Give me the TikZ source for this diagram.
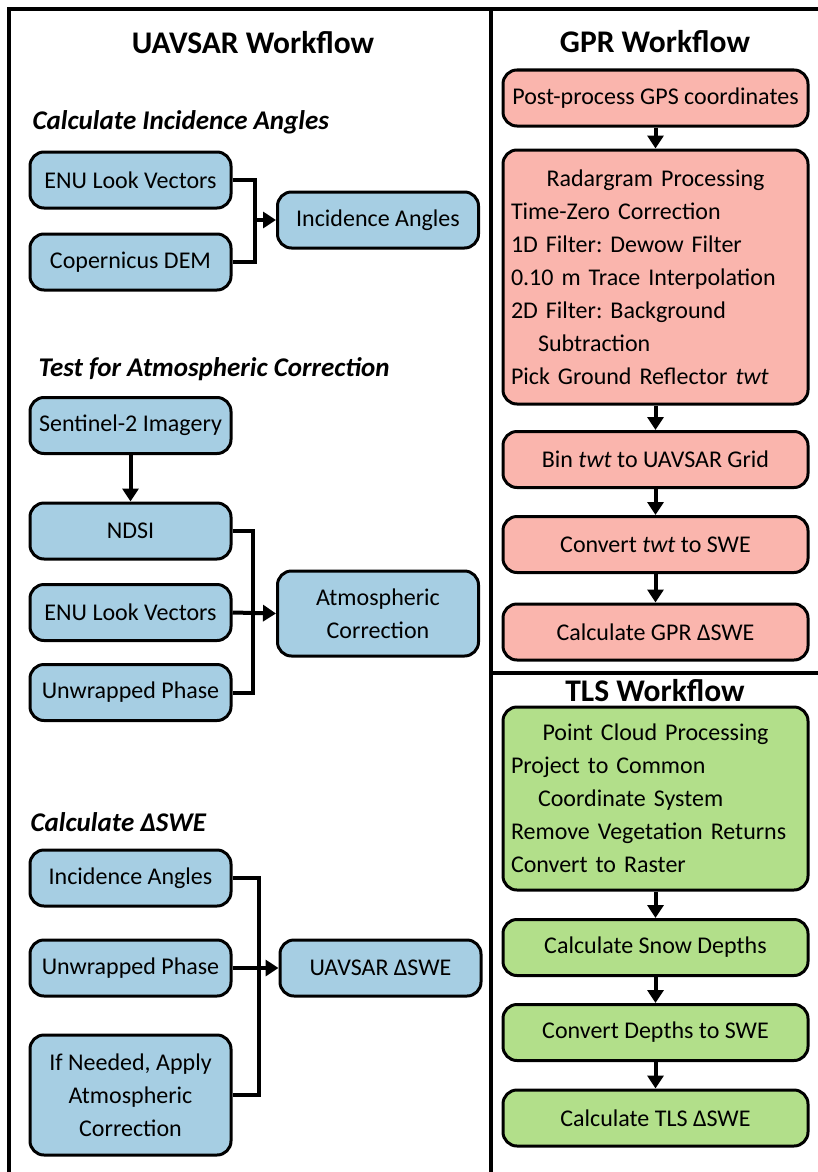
\documentclass[tikz,border=0pt]{standalone}
\usepackage{fontspec}
\setmainfont{Carlito}
\usetikzlibrary{arrows.meta}

\definecolor{uavblue}{RGB}{166,206,227}
\definecolor{gprpink}{RGB}{250,181,173}
\definecolor{tlsgreen}{RGB}{178,223,138}

\tikzset{every picture/.style={line width=0.75pt}}
\tikzset{
	box/.style={draw, line width=3pt, rounded corners=14pt, align=center, inner sep=0pt, font=\fontsize{24}{33}\selectfont},
	uavbox/.style={box, fill=uavblue, minimum width=201pt, minimum height=56pt},
	gprbox/.style={box, fill=gprpink, minimum width=305pt, minimum height=56pt},
	tlsbox/.style={box, fill=tlsgreen, minimum width=305pt, minimum height=56pt},
	title/.style={font=\fontsize{31.5}{34}\selectfont\bfseries},
	subtitle/.style={anchor=west, font=\fontsize{27}{30}\selectfont\bfseries\itshape},
	wire/.style={line width=4pt},
	arrow/.style={line width=4pt, -{Triangle[width=16pt,length=13pt]}},
	frame/.style={line width=4pt}
}

\begin{document}
\frenchspacing
\begin{tikzpicture}[x=1pt,y=1pt,yscale=-1,xscale=1]
	\useasboundingbox (0,0) rectangle (818,1172);

	%Frame
	\draw [frame] (9,1172) -- (9,9) -- (818,9) ;
	\draw [frame] (491,9) -- (491,1172) ;
	\draw [frame] (491,673) -- (818,673) ;

	% Titles
	\node [title] (uavtitle) at (253,43) {UAVSAR Workflow};
	\node [title] (gprtitle) at (655,42) {GPR Workflow};
	\node [title] (tlstitle) at (655,691) {TLS Workflow};
	\node [subtitle] (subinc) at (29,122) {Calculate Incidence Angles};
	\node [subtitle] (subatm) at (35,369) {Test for Atmospheric Correction};
	\node [subtitle] (subswe) at (27,822) {Calculate ΔSWE};

	% UAVSAR: incidence angles
	\node [uavbox] (enua) at (130.5,180) {ENU Look Vectors};
	\node [uavbox] (dem) at (130.5,262) {Copernicus DEM};
	\node [uavbox] (inca) at (378,220) {Incidence Angles};
	\coordinate (busa) at (255,220);
	\draw [wire] (enua.east) -| (busa) |- (dem.east) ;
	\draw [arrow] (busa) -- (inca.west) ;

	% UAVSAR: atmospheric correction
	\node [uavbox] (sent) at (130.5,425.5) {Sentinel-2 Imagery};
	\node [uavbox] (ndsi) at (130.5,531) {NDSI};
	\node [uavbox] (enub) at (130.5,612.5) {ENU Look Vectors};
	\node [uavbox] (unwa) at (130.5,692.5) {Unwrapped Phase};
	\node [uavbox, minimum height=85pt] (atm) at (378,613.5) {Atmospheric\\Correction};
	\coordinate (busb) at (253,612.5);
	\draw [arrow] (sent) -- (ndsi) ;
	\draw [wire] (ndsi.east) -| (busb) |- (unwa.east) ;
	\draw [arrow] (enub.east) -- (atm.west) ;

	% UAVSAR: delta SWE
	\node [uavbox] (incb) at (130.5,878) {Incidence Angles};
	\node [uavbox] (unwb) at (130.5,968) {Unwrapped Phase};
	\node [uavbox, minimum height=120pt] (apply) at (130.5,1095) {If Needed, Apply\\Atmospheric\\Correction};
	\node [uavbox] (uswe) at (380.5,968) {UAVSAR ΔSWE};
	\coordinate (busc) at (259,968);
	\draw [wire] (incb.east) -| (busc) |- (apply.east) ;
	\draw [arrow] (unwb.east) -- (uswe.west) ;

	% GPR
	\node [gprbox] (gps) at (655.5,98) {Post-process GPS coordinates};
	\node [gprbox, minimum height=254pt, text width=289pt, align=left] (radar) at (655.5,277) {\makebox[289pt]{Radargram Processing}\\Time-Zero Correction\\1D Filter: Dewow Filter\\0.10 m Trace Interpolation\\2D Filter: Background\\\hspace*{27pt}Subtraction\\Pick Ground Reflector \textit{twt}};
	\node [gprbox] (bin) at (655.5,459.5) {Bin \textit{twt} to UAVSAR Grid};
	\node [gprbox] (conv) at (655.5,544.5) {Convert \textit{twt} to SWE};
	\node [gprbox] (gswe) at (655.5,632) {Calculate GPR ΔSWE};
	\draw [arrow] (gps) -- (radar) ;
	\draw [arrow] (radar) -- (bin) ;
	\draw [arrow] (bin) -- (conv) ;
	\draw [arrow] (conv) -- (gswe) ;

	% TLS
	\node [tlsbox, minimum height=183pt, text width=289pt, align=left] (cloud) at (655.5,798.5) {\makebox[289pt]{Point Cloud Processing}\\Project to Common\\\hspace*{27pt}Coordinate System\\Remove Vegetation Returns\\Convert to Raster};
	\node [tlsbox] (depth) at (655.5,947.5) {Calculate Snow Depths};
	\node [tlsbox] (dswe) at (655.5,1032.5) {Convert Depths to SWE};
	\node [tlsbox] (tswe) at (655.5,1118) {Calculate TLS ΔSWE};
	\draw [arrow] (cloud) -- (depth) ;
	\draw [arrow] (depth) -- (dswe) ;
	\draw [arrow] (dswe) -- (tswe) ;

\end{tikzpicture}
\end{document}
